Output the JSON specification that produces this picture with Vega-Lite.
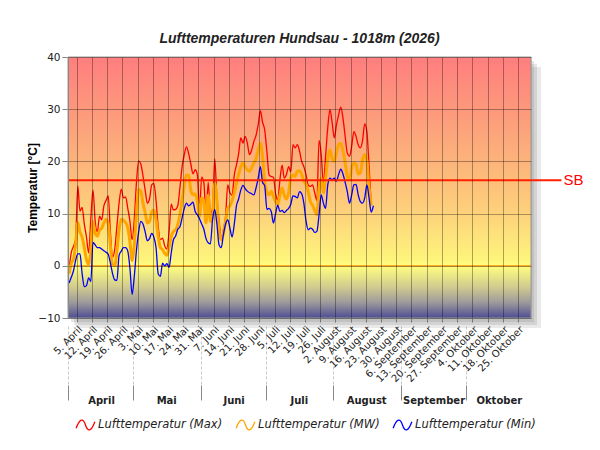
{
  "$schema": "https://vega.github.io/schema/vega-lite/v6.json",
  "width": 463,
  "height": 261,
  "autosize": "none",
  "padding": {"left": 68, "top": 57, "right": 69, "bottom": 132},
  "background": "white",
  "params": [
    {"name": "mon", "value": ["Januar", "Februar", "März", "April", "Mai", "Juni", "Juli", "August", "September", "Oktober", "November", "Dezember"]}
  ],
  "title": {
    "text": "Lufttemperaturen Hundsau - 1018m (2026)",
    "font": "Liberation Sans",
    "fontSize": 14,
    "fontWeight": "bold",
    "fontStyle": "italic",
    "color": "#222",
    "offset": 6
  },
  "data": {
    "values": [
      {"t": "2026-04-01T12:00", "Max": -0.5, "MW": -1.5, "Min": -3.3},
      {"t": "2026-04-02T12:00", "Max": 2.5, "MW": 0.5, "Min": -2.2},
      {"t": "2026-04-03T12:00", "Max": 3.7, "MW": 1.2, "Min": -1},
      {"t": "2026-04-04T12:00", "Max": 5, "MW": 4, "Min": 1},
      {"t": "2026-04-05T12:00", "Max": 15.3, "MW": 8.3, "Min": 2.3},
      {"t": "2026-04-06T12:00", "Max": 10.5, "MW": 6.5, "Min": 2.3},
      {"t": "2026-04-07T12:00", "Max": 11.2, "MW": 5.5, "Min": -1.5},
      {"t": "2026-04-08T12:00", "Max": 8, "MW": 3.5, "Min": -4},
      {"t": "2026-04-09T12:00", "Max": 5.5, "MW": 1.2, "Min": -3.8},
      {"t": "2026-04-10T12:00", "Max": 2.5, "MW": 0.3, "Min": -2.3},
      {"t": "2026-04-11T12:00", "Max": 9, "MW": 3, "Min": -3},
      {"t": "2026-04-12T12:00", "Max": 14.5, "MW": 8.5, "Min": 4.5},
      {"t": "2026-04-13T12:00", "Max": 8.5, "MW": 6.2, "Min": 4},
      {"t": "2026-04-14T12:00", "Max": 6.5, "MW": 5.7, "Min": 3.5},
      {"t": "2026-04-15T12:00", "Max": 9.5, "MW": 6.8, "Min": 3.5},
      {"t": "2026-04-16T12:00", "Max": 8.8, "MW": 7.2, "Min": 3.2},
      {"t": "2026-04-17T12:00", "Max": 11.5, "MW": 8.2, "Min": 2.9},
      {"t": "2026-04-18T12:00", "Max": 12.5, "MW": 8.9, "Min": 2.6},
      {"t": "2026-04-19T12:00", "Max": 13.4, "MW": 8, "Min": 2.2},
      {"t": "2026-04-20T12:00", "Max": 6.5, "MW": 3.8, "Min": 0.5},
      {"t": "2026-04-21T12:00", "Max": 1.6, "MW": 0.2, "Min": -1.5},
      {"t": "2026-04-22T12:00", "Max": 3.2, "MW": 0, "Min": -2.7},
      {"t": "2026-04-23T12:00", "Max": 7.6, "MW": 2.8, "Min": -2.8},
      {"t": "2026-04-24T12:00", "Max": 12, "MW": 7, "Min": 2},
      {"t": "2026-04-25T12:00", "Max": 14.7, "MW": 8.9, "Min": 2.8},
      {"t": "2026-04-26T12:00", "Max": 13, "MW": 8.7, "Min": 3.5},
      {"t": "2026-04-27T12:00", "Max": 13.2, "MW": 8.3, "Min": 3.5},
      {"t": "2026-04-28T12:00", "Max": 11, "MW": 7.3, "Min": 2.8},
      {"t": "2026-04-29T12:00", "Max": 8.5, "MW": 4.5, "Min": -0.5},
      {"t": "2026-04-30T12:00", "Max": 5, "MW": 1, "Min": -5.5},
      {"t": "2026-05-01T12:00", "Max": 9, "MW": 4, "Min": -2},
      {"t": "2026-05-02T12:00", "Max": 16, "MW": 10, "Min": 3},
      {"t": "2026-05-03T12:00", "Max": 20.1, "MW": 14.6, "Min": 6.5},
      {"t": "2026-05-04T12:00", "Max": 19.5, "MW": 14.3, "Min": 8.5},
      {"t": "2026-05-05T12:00", "Max": 17.2, "MW": 12, "Min": 8},
      {"t": "2026-05-06T12:00", "Max": 14.5, "MW": 10.2, "Min": 6.5},
      {"t": "2026-05-07T12:00", "Max": 12, "MW": 8.2, "Min": 4.8},
      {"t": "2026-05-08T12:00", "Max": 12.8, "MW": 8.5, "Min": 5.2},
      {"t": "2026-05-09T12:00", "Max": 15.5, "MW": 10.3, "Min": 6.2},
      {"t": "2026-05-10T12:00", "Max": 15.8, "MW": 10.7, "Min": 5.5},
      {"t": "2026-05-11T12:00", "Max": 12.5, "MW": 8.8, "Min": 3.5},
      {"t": "2026-05-12T12:00", "Max": 7.5, "MW": 5.6, "Min": -1.5},
      {"t": "2026-05-13T12:00", "Max": 5, "MW": 3.5, "Min": -2},
      {"t": "2026-05-14T12:00", "Max": 5.3, "MW": 3.1, "Min": 0.5},
      {"t": "2026-05-15T12:00", "Max": 3.8, "MW": 2.4, "Min": 0},
      {"t": "2026-05-16T12:00", "Max": 3.2, "MW": 2, "Min": 0.4},
      {"t": "2026-05-17T12:00", "Max": 6.5, "MW": 3.5, "Min": -0.3},
      {"t": "2026-05-18T12:00", "Max": 11.8, "MW": 5.6, "Min": 2.5},
      {"t": "2026-05-19T12:00", "Max": 10.7, "MW": 6.6, "Min": 5},
      {"t": "2026-05-20T12:00", "Max": 10.8, "MW": 6.9, "Min": 5.7},
      {"t": "2026-05-21T12:00", "Max": 11.5, "MW": 7.9, "Min": 7},
      {"t": "2026-05-22T12:00", "Max": 15, "MW": 9.8, "Min": 7.5},
      {"t": "2026-05-23T12:00", "Max": 19, "MW": 12.7, "Min": 9.2},
      {"t": "2026-05-24T12:00", "Max": 21.3, "MW": 15.5, "Min": 11},
      {"t": "2026-05-25T12:00", "Max": 22.8, "MW": 17.4, "Min": 12},
      {"t": "2026-05-26T12:00", "Max": 21.5, "MW": 17.3, "Min": 11.5},
      {"t": "2026-05-27T12:00", "Max": 19.5, "MW": 14.5, "Min": 11.8},
      {"t": "2026-05-28T12:00", "Max": 17.6, "MW": 13.6, "Min": 12.2},
      {"t": "2026-05-29T12:00", "Max": 18.4, "MW": 13.8, "Min": 10.4},
      {"t": "2026-05-30T12:00", "Max": 17.5, "MW": 12.5, "Min": 9.8},
      {"t": "2026-05-31T12:00", "Max": 10.5, "MW": 9.5, "Min": 9},
      {"t": "2026-06-01T12:00", "Max": 17, "MW": 13, "Min": 8},
      {"t": "2026-06-02T12:00", "Max": 16, "MW": 12.5, "Min": 7},
      {"t": "2026-06-03T12:00", "Max": 9.5, "MW": 8.2, "Min": 5.2},
      {"t": "2026-06-04T12:00", "Max": 16, "MW": 13.5, "Min": 4.4},
      {"t": "2026-06-05T12:00", "Max": 10, "MW": 8.5, "Min": 4.2},
      {"t": "2026-06-06T12:00", "Max": 11, "MW": 9.5, "Min": 8.8},
      {"t": "2026-06-07T12:00", "Max": 20.5, "MW": 15.8, "Min": 10.8},
      {"t": "2026-06-08T12:00", "Max": 13, "MW": 12.5, "Min": 8},
      {"t": "2026-06-09T12:00", "Max": 8.8, "MW": 6.5, "Min": 4},
      {"t": "2026-06-10T12:00", "Max": 5.2, "MW": 5, "Min": 3.5},
      {"t": "2026-06-11T12:00", "Max": 7, "MW": 6.2, "Min": 6},
      {"t": "2026-06-12T12:00", "Max": 9.5, "MW": 8.5, "Min": 8},
      {"t": "2026-06-13T12:00", "Max": 15.5, "MW": 11, "Min": 8.8},
      {"t": "2026-06-14T12:00", "Max": 14, "MW": 11.5, "Min": 7.2},
      {"t": "2026-06-15T12:00", "Max": 13.5, "MW": 12.5, "Min": 5.5},
      {"t": "2026-06-16T12:00", "Max": 17.4, "MW": 14, "Min": 8},
      {"t": "2026-06-17T12:00", "Max": 19.3, "MW": 15.8, "Min": 11.5},
      {"t": "2026-06-18T12:00", "Max": 21.5, "MW": 17.5, "Min": 12.8},
      {"t": "2026-06-19T12:00", "Max": 24.5, "MW": 19, "Min": 14.5},
      {"t": "2026-06-20T12:00", "Max": 23.5, "MW": 19.7, "Min": 15.4},
      {"t": "2026-06-21T12:00", "Max": 24.8, "MW": 19, "Min": 14.8},
      {"t": "2026-06-22T12:00", "Max": 23.5, "MW": 18.4, "Min": 14.3},
      {"t": "2026-06-23T12:00", "Max": 21.3, "MW": 18.1, "Min": 14},
      {"t": "2026-06-24T12:00", "Max": 22.2, "MW": 18.8, "Min": 13.8},
      {"t": "2026-06-25T12:00", "Max": 23.8, "MW": 19.7, "Min": 13.6},
      {"t": "2026-06-26T12:00", "Max": 25, "MW": 20.5, "Min": 14.9},
      {"t": "2026-06-27T12:00", "Max": 27, "MW": 22.2, "Min": 16.8},
      {"t": "2026-06-28T12:00", "Max": 29.7, "MW": 23.5, "Min": 19},
      {"t": "2026-06-29T12:00", "Max": 27.5, "MW": 21, "Min": 16},
      {"t": "2026-06-30T12:00", "Max": 26, "MW": 16, "Min": 15.3},
      {"t": "2026-07-01T12:00", "Max": 21.9, "MW": 14.2, "Min": 10.8},
      {"t": "2026-07-02T12:00", "Max": 17.4, "MW": 13.6, "Min": 11},
      {"t": "2026-07-03T12:00", "Max": 17.1, "MW": 14.3, "Min": 10.4},
      {"t": "2026-07-04T12:00", "Max": 17, "MW": 13.3, "Min": 8.2},
      {"t": "2026-07-05T12:00", "Max": 13.8, "MW": 12.3, "Min": 10},
      {"t": "2026-07-06T12:00", "Max": 12.6, "MW": 11.7, "Min": 11.6},
      {"t": "2026-07-07T12:00", "Max": 16.5, "MW": 13.6, "Min": 10.4},
      {"t": "2026-07-08T12:00", "Max": 19.3, "MW": 14.9, "Min": 10.6},
      {"t": "2026-07-09T12:00", "Max": 16.8, "MW": 13.5, "Min": 10.2},
      {"t": "2026-07-10T12:00", "Max": 17.5, "MW": 12.8, "Min": 10.6},
      {"t": "2026-07-11T12:00", "Max": 19, "MW": 14, "Min": 11},
      {"t": "2026-07-12T12:00", "Max": 18, "MW": 16.8, "Min": 11.8},
      {"t": "2026-07-13T12:00", "Max": 23.2, "MW": 17.4, "Min": 13.4},
      {"t": "2026-07-14T12:00", "Max": 22.6, "MW": 17.1, "Min": 13.3},
      {"t": "2026-07-15T12:00", "Max": 23.2, "MW": 18.1, "Min": 13},
      {"t": "2026-07-16T12:00", "Max": 22, "MW": 18.2, "Min": 14.2},
      {"t": "2026-07-17T12:00", "Max": 20, "MW": 17.5, "Min": 13.8},
      {"t": "2026-07-18T12:00", "Max": 19, "MW": 16.2, "Min": 12},
      {"t": "2026-07-19T12:00", "Max": 17.4, "MW": 15.6, "Min": 8.6},
      {"t": "2026-07-20T12:00", "Max": 15.5, "MW": 14.2, "Min": 6.9},
      {"t": "2026-07-21T12:00", "Max": 15.2, "MW": 12.3, "Min": 7.2},
      {"t": "2026-07-22T12:00", "Max": 15.5, "MW": 11.6, "Min": 7},
      {"t": "2026-07-23T12:00", "Max": 14, "MW": 10.6, "Min": 6.4},
      {"t": "2026-07-24T12:00", "Max": 12.5, "MW": 9.8, "Min": 6.6},
      {"t": "2026-07-25T12:00", "Max": 24, "MW": 14.9, "Min": 9.8},
      {"t": "2026-07-26T12:00", "Max": 21.3, "MW": 16.8, "Min": 13.6},
      {"t": "2026-07-27T12:00", "Max": 15.5, "MW": 14, "Min": 12},
      {"t": "2026-07-28T12:00", "Max": 21, "MW": 16.8, "Min": 11},
      {"t": "2026-07-29T12:00", "Max": 26.5, "MW": 20.6, "Min": 15.5},
      {"t": "2026-07-30T12:00", "Max": 29.9, "MW": 22.2, "Min": 16.8},
      {"t": "2026-07-31T12:00", "Max": 27.5, "MW": 20.6, "Min": 16.5},
      {"t": "2026-08-01T12:00", "Max": 24.5, "MW": 20, "Min": 16.8},
      {"t": "2026-08-02T12:00", "Max": 27, "MW": 21.7, "Min": 16.2},
      {"t": "2026-08-03T12:00", "Max": 28.9, "MW": 23.2, "Min": 17.5},
      {"t": "2026-08-04T12:00", "Max": 30.4, "MW": 23.5, "Min": 18.5},
      {"t": "2026-08-05T12:00", "Max": 28.3, "MW": 22, "Min": 17.6},
      {"t": "2026-08-06T12:00", "Max": 24.8, "MW": 19.8, "Min": 16},
      {"t": "2026-08-07T12:00", "Max": 21.6, "MW": 17, "Min": 14.2},
      {"t": "2026-08-08T12:00", "Max": 21, "MW": 16.5, "Min": 12},
      {"t": "2026-08-09T12:00", "Max": 22.9, "MW": 18.8, "Min": 13.6},
      {"t": "2026-08-10T12:00", "Max": 25.7, "MW": 19.7, "Min": 15.5},
      {"t": "2026-08-11T12:00", "Max": 24.8, "MW": 19.4, "Min": 15.6},
      {"t": "2026-08-12T12:00", "Max": 23.2, "MW": 17.6, "Min": 13.6},
      {"t": "2026-08-13T12:00", "Max": 22.6, "MW": 17.8, "Min": 12.3},
      {"t": "2026-08-14T12:00", "Max": 24, "MW": 20.3, "Min": 12},
      {"t": "2026-08-15T12:00", "Max": 27.2, "MW": 21.3, "Min": 13},
      {"t": "2026-08-16T12:00", "Max": 25.7, "MW": 20.2, "Min": 15.5},
      {"t": "2026-08-17T12:00", "Max": 19, "MW": 15, "Min": 13},
      {"t": "2026-08-18T12:00", "Max": 11.8, "MW": 11.5, "Min": 10.3},
      {"t": "2026-08-19T12:00", "Min": 11.5}
    ]
  },
  "layer": [
    {
      "data": {"values": [{}]},
      "mark": {"type": "rect", "fill": "#666", "opacity": 0.16, "xOffset": 3, "x2Offset": 3, "yOffset": 4, "y2Offset": 4},
      "encoding": {
        "x": {"datum": {"year": 2026, "month": 4, "date": 1}, "type": "temporal", "axis": null, "scale": {"domain": [{"year": 2026, "month": 4, "date": 1}, {"year": 2026, "month": 10, "date": 31}]}},
        "x2": {"datum": {"year": 2026, "month": 10, "date": 31}},
        "y": {"datum": 40, "type": "quantitative", "scale": {"domain": [-10, 40], "nice": false}},
        "y2": {"datum": -10}
      }
    },
    {
      "data": {"values": [{}]},
      "mark": {"type": "rect", "fill": "#666", "opacity": 0.16, "xOffset": 6, "x2Offset": 6, "yOffset": 7, "y2Offset": 7},
      "encoding": {
        "x": {"datum": {"year": 2026, "month": 4, "date": 1}, "type": "temporal", "axis": null, "scale": {"domain": [{"year": 2026, "month": 4, "date": 1}, {"year": 2026, "month": 10, "date": 31}]}},
        "x2": {"datum": {"year": 2026, "month": 10, "date": 31}},
        "y": {"datum": 40, "type": "quantitative", "scale": {"domain": [-10, 40], "nice": false}},
        "y2": {"datum": -10}
      }
    },
    {
      "data": {"values": [{}]},
      "mark": {"type": "rect", "fill": "#666", "opacity": 0.14, "xOffset": 10, "x2Offset": 10, "yOffset": 10, "y2Offset": 10},
      "encoding": {
        "x": {"datum": {"year": 2026, "month": 4, "date": 1}, "type": "temporal", "axis": null, "scale": {"domain": [{"year": 2026, "month": 4, "date": 1}, {"year": 2026, "month": 10, "date": 31}]}},
        "x2": {"datum": {"year": 2026, "month": 10, "date": 31}},
        "y": {"datum": 40, "type": "quantitative", "scale": {"domain": [-10, 40], "nice": false}},
        "y2": {"datum": -10}
      }
    },
    {
      "data": {"values": [{}]},
      "mark": {
        "type": "rect",
        "stroke": "#999",
        "strokeWidth": 1,
        "fill": {
          "gradient": "linear",
          "x1": 0, "y1": 0, "x2": 0, "y2": 1,
          "stops": [
            {"offset": 0, "color": "#ff7e7e"},
            {"offset": 0.2, "color": "#fd987c"},
            {"offset": 0.4, "color": "#fcb37b"},
            {"offset": 0.6, "color": "#fdd27b"},
            {"offset": 0.78, "color": "#fef57b"},
            {"offset": 0.8, "color": "#ffff80"},
            {"offset": 0.88, "color": "#d2cc8e"},
            {"offset": 0.94, "color": "#9e9a9c"},
            {"offset": 1, "color": "#4e4e94"}
          ]
        }
      },
      "encoding": {
        "x": {"datum": {"year": 2026, "month": 4, "date": 1}, "type": "temporal", "axis": null, "scale": {"domain": [{"year": 2026, "month": 4, "date": 1}, {"year": 2026, "month": 10, "date": 31}]}},
        "x2": {"datum": {"year": 2026, "month": 10, "date": 31}},
        "y": {"datum": 40, "type": "quantitative", "scale": {"domain": [-10, 40], "nice": false}},
        "y2": {"datum": -10}
      }
    },
    {
      "data": {"values": [{}]},
      "mark": {"type": "rule", "color": "#ff8c00", "strokeWidth": 1.3},
      "encoding": {
        "y": {"datum": 0, "type": "quantitative", "scale": {"domain": [-10, 40], "nice": false}}
      }
    },
    {
      "transform": [{"fold": ["Max", "MW", "Min"], "as": ["serie", "wert"]}, {"filter": "datum.serie == 'Max'"}],
      "mark": {"type": "line", "interpolate": "monotone", "strokeWidth": 1.3},
      "encoding": {
        "x": {
          "field": "t",
          "type": "temporal",
          "scale": {"domain": [{"year": 2026, "month": 4, "date": 1}, {"year": 2026, "month": 10, "date": 31}]},
          "axis": {
            "tickCount": {"interval": "week", "step": 1},
            "labelExpr": "date(datum.value) + '. ' + mon[month(datum.value)]",
            "labelAngle": -45,
            "labelFont": "DejaVu Sans",
            "labelFontSize": 10,
            "labelColor": "#222",
            "labelPadding": 2,
            "labelOverlap": false,
            "labelFlush": false,
            "ticks": true,
            "tickSize": 4,
            "tickColor": "#777",
            "domain": false,
            "grid": true,
            "gridColor": "#000",
            "gridOpacity": 0.33,
            "title": null,
            "zindex": 1
          }
        },
        "y": {
          "field": "wert",
          "type": "quantitative",
          "scale": {"domain": [-10, 40], "nice": false},
          "axis": {
            "values": [-10, -5, 0, 5, 10, 15, 20, 25, 30, 35, 40],
            "title": "Temperatur [°C]",
            "titleFont": "Liberation Sans",
            "titleFontSize": 12,
            "titleFontWeight": "bold",
            "titleColor": "#000",
            "titlePadding": -2,
            "labelFont": "DejaVu Sans",
            "labelFontSize": 10.5,
            "labelColor": "#222",
            "labelPadding": 2,
            "tickSize": 6,
            "tickColor": "#888",
            "domainColor": "#888",
            "grid": true,
            "gridColor": "#000",
            "gridOpacity": 0.33,
            "zindex": 1
          }
        },
        "color": {
          "field": "serie",
          "type": "nominal",
          "scale": {"domain": ["Max", "MW", "Min"], "range": ["#ff0000", "#ffa500", "#0000ff"]},
          "legend": {
            "orient": "bottom",
            "direction": "horizontal",
            "title": null,
            "offset": 2,
            "padding": 7,
            "labelExpr": "'Lufttemperatur (' + datum.label + ')'",
            "labelFont": "DejaVu Sans",
            "labelFontStyle": "italic",
            "labelFontSize": 11.5,
            "labelColor": "#222",
            "labelOffset": 2,
            "symbolType": "M-1,0.35C-0.6,-0.75 -0.25,-0.75 0,0C0.25,0.75 0.6,0.75 1,-0.35",
            "symbolSize": 350,
            "symbolStrokeWidth": 1.3,
            "symbolFillColor": "transparent",
            "columnPadding": 10
          }
        }
      }
    },
    {
      "transform": [{"fold": ["Max", "MW", "Min"], "as": ["serie", "wert"]}, {"filter": "datum.serie == 'MW'"}],
      "mark": {"type": "line", "interpolate": "monotone", "strokeWidth": 3},
      "encoding": {
        "x": {"field": "t", "type": "temporal", "axis": null, "scale": {"domain": [{"year": 2026, "month": 4, "date": 1}, {"year": 2026, "month": 10, "date": 31}]}},
        "y": {"field": "wert", "type": "quantitative", "title": "Temperatur [°C]", "scale": {"domain": [-10, 40], "nice": false}},
        "color": {"field": "serie", "type": "nominal", "scale": {"domain": ["Max", "MW", "Min"], "range": ["#ff0000", "#ffa500", "#0000ff"]}}
      }
    },
    {
      "transform": [{"fold": ["Max", "MW", "Min"], "as": ["serie", "wert"]}, {"filter": "datum.serie == 'Min'"}],
      "mark": {"type": "line", "interpolate": "monotone", "strokeWidth": 1.3},
      "encoding": {
        "x": {"field": "t", "type": "temporal", "axis": null, "scale": {"domain": [{"year": 2026, "month": 4, "date": 1}, {"year": 2026, "month": 10, "date": 31}]}},
        "y": {"field": "wert", "type": "quantitative", "title": "Temperatur [°C]", "scale": {"domain": [-10, 40], "nice": false}},
        "color": {"field": "serie", "type": "nominal", "scale": {"domain": ["Max", "MW", "Min"], "range": ["#ff0000", "#ffa500", "#0000ff"]}}
      }
    },
    {
      "data": {"values": [{}]},
      "mark": {"type": "rule", "color": "#ff2000", "strokeWidth": 2},
      "encoding": {
        "x": {
          "datum": {"year": 2026, "month": 4, "date": 1},
          "type": "temporal",
          "scale": {"domain": [{"year": 2026, "month": 4, "date": 1}, {"year": 2026, "month": 10, "date": 31}]},
          "axis": {
            "orient": "bottom",
            "offset": 67,
            "values": [
              {"year": 2026, "month": 4, "date": 1},
              {"year": 2026, "month": 5, "date": 1},
              {"year": 2026, "month": 6, "date": 1},
              {"year": 2026, "month": 7, "date": 1},
              {"year": 2026, "month": 8, "date": 1},
              {"year": 2026, "month": 9, "date": 1},
              {"year": 2026, "month": 10, "date": 1}
            ],
            "labelExpr": "mon[month(datum.value)]",
            "labelFont": "DejaVu Sans",
            "labelFontWeight": "bold",
            "labelFontSize": 10,
            "labelColor": "#222",
            "labelAngle": 0,
            "labelAlign": "center",
            "labelBaseline": "middle",
            "labelOffset": 33,
            "labelPadding": 0,
            "labelFlush": false,
            "labelOverlap": false,
            "tickSize": 15,
            "tickColor": "#888",
            "domain": false,
            "grid": false,
            "title": null
          }
        },
        "x2": {"datum": {"year": 2026, "month": 11, "date": 14}},
        "y": {"datum": 16.4, "type": "quantitative", "scale": {"domain": [-10, 40], "nice": false}}
      }
    },
    {
      "data": {"values": [{}]},
      "mark": {"type": "text", "text": "SB", "color": "#ff0000", "font": "Liberation Sans", "fontSize": 15, "align": "left", "baseline": "middle"},
      "encoding": {
        "x": {
          "datum": {"year": 2026, "month": 11, "date": 15},
          "type": "temporal",
          "scale": {"domain": [{"year": 2026, "month": 4, "date": 1}, {"year": 2026, "month": 10, "date": 31}]},
          "axis": {
            "orient": "bottom",
            "offset": 8,
            "values": [
              {"year": 2026, "month": 4, "date": 1},
              {"year": 2026, "month": 5, "date": 1},
              {"year": 2026, "month": 6, "date": 1},
              {"year": 2026, "month": 7, "date": 1},
              {"year": 2026, "month": 8, "date": 1},
              {"year": 2026, "month": 9, "date": 1},
              {"year": 2026, "month": 10, "date": 1}
            ],
            "labels": false,
            "tickSize": 59,
            "tickColor": "#c8c8c8",
            "tickDash": [3, 2],
            "domain": false,
            "grid": false,
            "title": null
          }
        },
        "y": {"datum": 16.4, "type": "quantitative", "scale": {"domain": [-10, 40], "nice": false}}
      }
    }
  ],
  "resolve": {"axis": {"x": "independent"}}
}
